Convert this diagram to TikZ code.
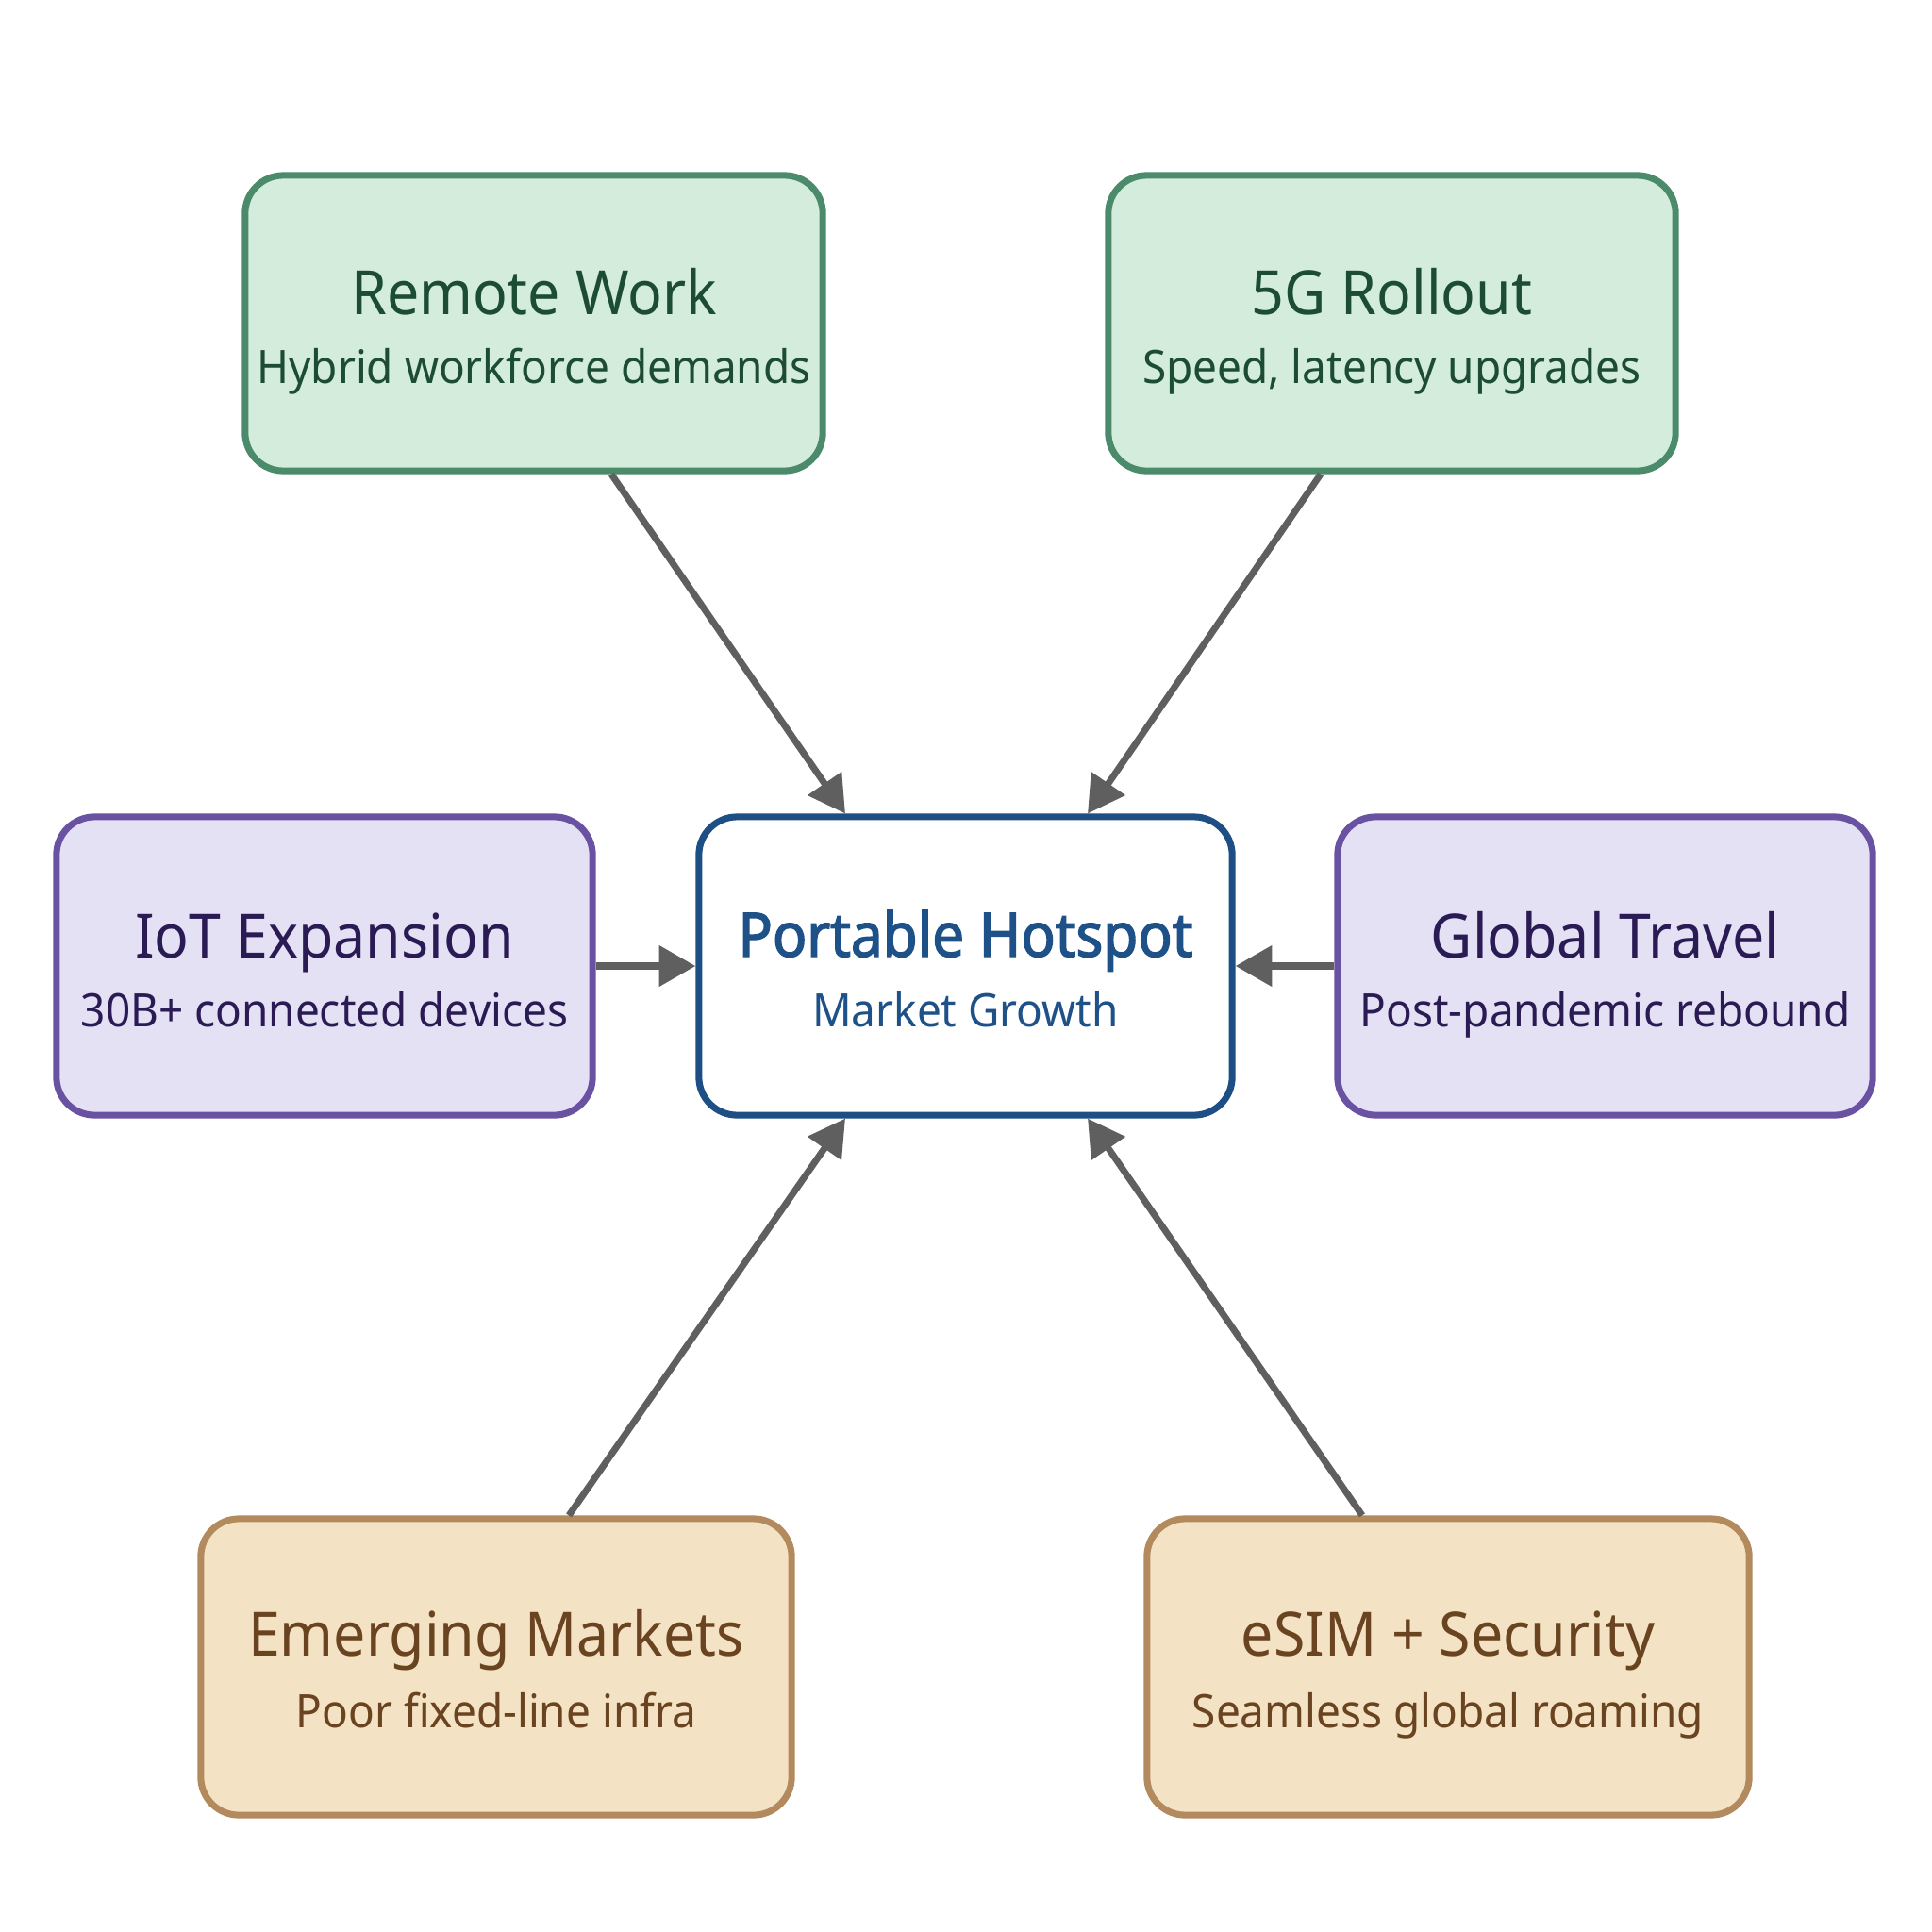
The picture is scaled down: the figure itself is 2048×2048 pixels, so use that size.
\documentclass[tikz,border=0pt]{standalone}
\usepackage{fontspec}
\setmainfont{Noto Sans}[FakeStretch=0.94]
\newfontfamily\semib{Noto Sans}[FakeBold=2.2,FakeStretch=0.93]
\usetikzlibrary{calc,arrows.meta}
\definecolor{gfill}{HTML}{D3ECDC}
\definecolor{gdraw}{HTML}{4B8B6B}
\definecolor{gtext}{HTML}{1C4D32}
\definecolor{pfill}{HTML}{E4E1F5}
\definecolor{pdraw}{HTML}{6A52A2}
\definecolor{ptext}{HTML}{2B1B54}
\definecolor{tfill}{HTML}{F3E2C3}
\definecolor{tdraw}{HTML}{B38A5D}
\definecolor{ttext}{HTML}{6A4420}
\definecolor{bdraw}{HTML}{1D4F85}
\definecolor{btext}{HTML}{1F5189}
\definecolor{arr}{HTML}{5F5F5F}
\tikzset{
  box/.style={draw, line width=2pt, rounded corners=11.5pt, inner sep=0pt},
  gbox/.style={box, draw=gdraw, fill=gfill},
  pbox/.style={box, draw=pdraw, fill=pfill},
  tbox/.style={box, draw=tdraw, fill=tfill},
  hbox/.style={box, draw=bdraw, fill=white},
  ttl/.style={anchor=base, inner sep=0pt, font=\fontsize{18.4}{21}\selectfont},
  sub/.style={anchor=base, inner sep=0pt, font=\fontsize{13.9}{16}\selectfont},
  link/.style={draw=arr, line width=2pt, -{Triangle[length=11pt,width=12pt]}},
}
\begin{document}
\begin{tikzpicture}[x=0.01cm, y=-0.01cm]
\useasboundingbox[fill=white] (0,0) rectangle (2048,2048);
% boxes
\node[gbox, minimum width=6.12cm, minimum height=3.13cm] (rw) at (566,342.5) {};
\node[gbox, minimum width=6.01cm, minimum height=3.13cm] (fg) at (1475.5,342.5) {};
\node[pbox, minimum width=5.68cm, minimum height=3.16cm] (iot) at (344,1024) {};
\node[hbox, minimum width=5.65cm, minimum height=3.16cm] (hub) at (1023.5,1024) {};
\node[pbox, minimum width=5.67cm, minimum height=3.16cm] (gt) at (1701.5,1024) {};
\node[tbox, minimum width=6.26cm, minimum height=3.14cm] (em) at (526,1767) {};
\node[tbox, minimum width=6.38cm, minimum height=3.14cm] (es) at (1535,1767) {};
% texts
\node[ttl, text=gtext] (rwT) at ($(rw.center)+(0,-9)$) {Remote Work};
\node[sub, text=gtext] (rwS) at ($(rw.center)+(0,64)$) {Hybrid workforce demands};
\node[ttl, text=gtext] (fgT) at ($(fg.center)+(0,-9)$) {5G Rollout};
\node[sub, text=gtext] (fgS) at ($(fg.center)+(0,64)$) {Speed, latency upgrades};
\node[ttl, text=ptext] (iotT) at ($(iot.center)+(0,-9)$) {IoT Expansion};
\node[sub, text=ptext] (iotS) at ($(iot.center)+(0,64)$) {30B+ connected devices};
\node[ttl, text=btext, font=\fontsize{18.4}{21}\semib] (hubT) at ($(hub.center)+(0,-10)$) {Portable Hotspot};
\node[sub, text=btext] (hubS) at ($(hub.center)+(0,64)$) {Market Growth};
\node[ttl, text=ptext] (gtT) at ($(gt.center)+(0,-9)$) {Global Travel};
\node[sub, text=ptext] (gtS) at ($(gt.center)+(0,64)$) {Post-pandemic rebound};
\node[ttl, text=ttext] (emT) at ($(em.center)+(0,-12)$) {Emerging Markets};
\node[sub, text=ttext] (emS) at ($(em.center)+(0,64)$) {Poor fixed-line infra};
\node[ttl, text=ttext] (esT) at ($(es.center)+(0,-12)$) {eSIM + Security};
\node[sub, text=ttext] (esS) at ($(es.center)+(0,64)$) {Seamless global roaming};
% connector ends
\coordinate (rwO) at ($(rw.south)+(82,0)$);
\coordinate (fgO) at ($(fg.south)+(-75.5,0)$);
\coordinate (emO) at ($(em.north)+(77,0)$);
\coordinate (esO) at ($(es.north)+(-91,0)$);
\coordinate (hubTL) at ($(hub.north)+(-127.5,0)$);
\coordinate (hubTR) at ($(hub.north)+(129.5,0)$);
\coordinate (hubBL) at ($(hub.south)+(-127.5,0)$);
\coordinate (hubBR) at ($(hub.south)+(129.5,0)$);
% connectors
\draw[link] (rwO) -- (hubTL);
\draw[link] (fgO) -- (hubTR);
\draw[link] (emO) -- (hubBL);
\draw[link] (esO) -- (hubBR);
\draw[link] (iot.east) -- (hub.west);
\draw[link] (gt.west) -- (hub.east);
\end{tikzpicture}
\end{document}
